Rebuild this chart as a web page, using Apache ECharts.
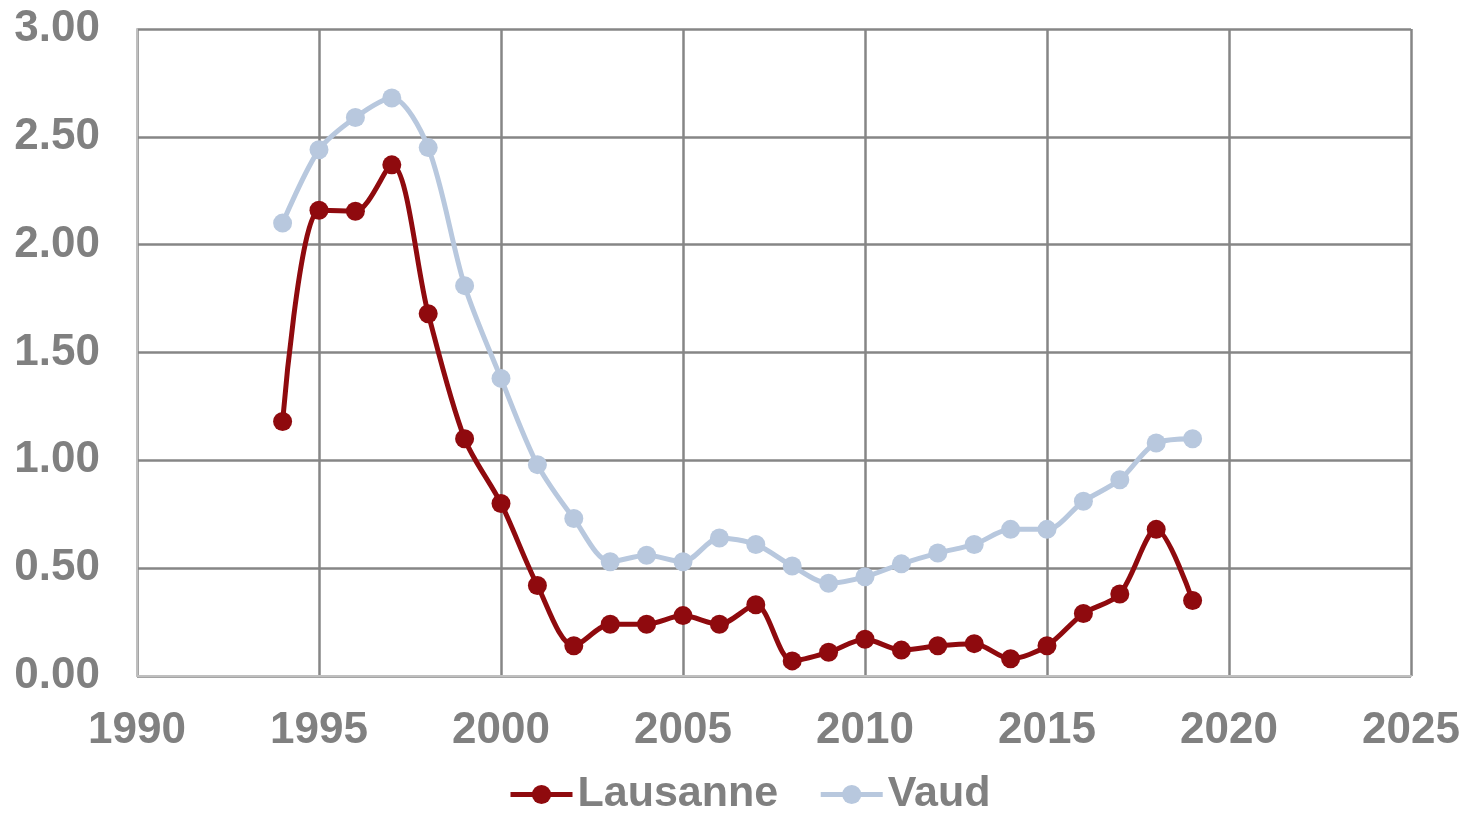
<!DOCTYPE html>
<html><head><meta charset="utf-8">
<script src="https://cdn.jsdelivr.net/npm/echarts@6/dist/echarts.min.js"></script>
<style>html,body{margin:0;padding:0;background:#fff}#c{width:1468px;height:814px}</style>
</head><body><div id="c"></div>
<script>
const years = [1994,1995,1996,1997,1998,1999,2000,2001,2002,2003,2004,2005,2006,2007,2008,2009,2010,2011,2012,2013,2014,2015,2016,2017,2018,2019];
const lausanne = [1.18,2.16,2.155,2.37,1.68,1.10,0.80,0.42,0.14,0.24,0.24,0.28,0.24,0.33,0.07,0.11,0.17,0.12,0.14,0.15,0.08,0.14,0.29,0.38,0.68,0.35];
const vaud = [2.10,2.44,2.59,2.68,2.45,1.81,1.38,0.98,0.73,0.53,0.56,0.53,0.64,0.61,0.51,0.43,0.46,0.52,0.57,0.61,0.68,0.68,0.81,0.91,1.08,1.10];
const seriesNames = ['Lausanne','Vaud'];
const colors = ['#8f0a0e','#b8c8de'];

const chart = echarts.init(document.getElementById('c'));
const font = 'Liberation Sans, Arial, sans-serif';
const mk = (name, vals, color) => ({
  name, type: 'line', smooth: 0.3,
  data: years.map((y,i)=>[y, vals[i]]),
  symbol: 'circle', symbolSize: 19,
  lineStyle: {width: 5, color}, itemStyle: {color},
  emphasis: {disabled: true}
});
chart.setOption({
  animation: false,
  grid: {left: 137, right: 57, top: 29, bottom: 138},
  legend: {
    top: 768, left: 503, itemWidth: 62, itemHeight: 24, itemGap: 40,
    lineStyle: {width: 5},
    textStyle: {fontFamily: font, fontWeight: 'bold', fontSize: 43, color: '#808080'},
    data: seriesNames
  },
  xAxis: {
    type: 'value', min: 1990, max: 2025, interval: 5,
    axisLine: {show: true, lineStyle: {color: '#bfbfbf', width: 2}},
    axisTick: {show: false},
    splitLine: {show: true, lineStyle: {color: '#868686', width: 2.5}},
    axisLabel: {fontFamily: font, fontWeight: 'bold', fontSize: 44, color: '#808080', margin: 33,
      formatter: v => String(v)}
  },
  yAxis: {
    type: 'value', min: 0, max: 3, interval: 0.5,
    axisLine: {show: true, lineStyle: {color: '#bfbfbf', width: 2}},
    axisTick: {show: false},
    splitLine: {show: true, lineStyle: {color: '#868686', width: 2.5}},
    axisLabel: {fontFamily: font, fontWeight: 'bold', fontSize: 44, color: '#808080', margin: 37,
      formatter: v => v.toFixed(2)}
  },
  series: [mk(seriesNames[0], lausanne, colors[0]), mk(seriesNames[1], vaud, colors[1])]
});
</script></body></html>
